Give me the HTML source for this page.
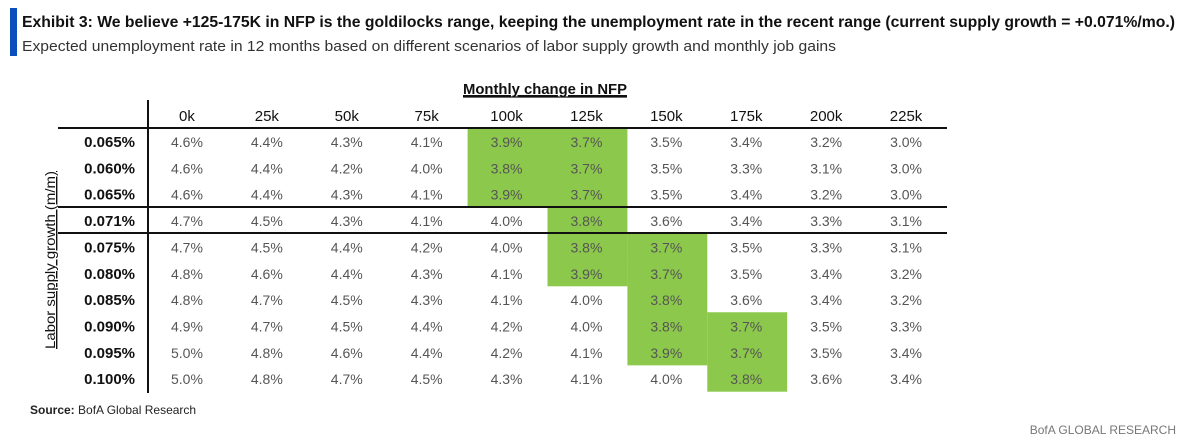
<!DOCTYPE html>
<html><head><meta charset="utf-8"><style>
html,body{margin:0;padding:0;background:#fff;}
svg{display:block;font-family:"Liberation Sans",sans-serif;}
</style></head><body>
<svg id="chart" width="1200" height="441" viewBox="0 0 1200 441">
<rect x="10" y="8" width="7" height="48" fill="#0b4fbd"/>
<text x="22" y="27" font-size="16" font-weight="bold" fill="#111" textLength="1153" lengthAdjust="spacingAndGlyphs">Exhibit 3: We believe +125-175K in NFP is the goldilocks range, keeping the unemployment rate in the recent range (current supply growth = +0.071%/mo.)</text>
<text x="22" y="51" font-size="15" fill="#333" textLength="814" lengthAdjust="spacingAndGlyphs">Expected unemployment rate in 12 months based on different scenarios of labor supply growth and monthly job gains</text>
<text x="545" y="94" font-size="15" font-weight="bold" fill="#111" text-anchor="middle" textLength="164" lengthAdjust="spacingAndGlyphs" text-decoration="underline">Monthly change in NFP</text>
<line x1="463" y1="97" x2="627" y2="97" stroke="#111" stroke-width="1.2"/>
<text transform="translate(55,260) rotate(-90)" font-size="14" fill="#111" text-anchor="middle" textLength="178" lengthAdjust="spacingAndGlyphs" text-decoration="underline">Labor supply growth (m/m)</text>
<g id="cells"></g>
<g id="labels"></g>
<line x1="58" y1="128" x2="947" y2="128" stroke="#111" stroke-width="2"/>
<line x1="58" y1="207" x2="947" y2="207" stroke="#111" stroke-width="2"/>
<line x1="58" y1="233" x2="947" y2="233" stroke="#111" stroke-width="2"/>
<line x1="148" y1="100" x2="148" y2="393" stroke="#111" stroke-width="2"/>
<text x="30" y="414" font-size="12" fill="#222"><tspan font-weight="bold">Source:</tspan> BofA Global Research</text>
<text x="1176" y="434" font-size="12" fill="#777" text-anchor="end">BofA GLOBAL RESEARCH</text>
</svg>
<script>
const columns = ["0k","25k","50k","75k","100k","125k","150k","175k","200k","225k"];
const rowsLabels = ["0.065%","0.060%","0.065%","0.071%","0.075%","0.080%","0.085%","0.090%","0.095%","0.100%"];
const values = [
[4.6,4.4,4.3,4.1,3.9,3.7,3.5,3.4,3.2,3.0],
[4.6,4.4,4.2,4.0,3.8,3.7,3.5,3.3,3.1,3.0],
[4.6,4.4,4.3,4.1,3.9,3.7,3.5,3.4,3.2,3.0],
[4.7,4.5,4.3,4.1,4.0,3.8,3.6,3.4,3.3,3.1],
[4.7,4.5,4.4,4.2,4.0,3.8,3.7,3.5,3.3,3.1],
[4.8,4.6,4.4,4.3,4.1,3.9,3.7,3.5,3.4,3.2],
[4.8,4.7,4.5,4.3,4.1,4.0,3.8,3.6,3.4,3.2],
[4.9,4.7,4.5,4.4,4.2,4.0,3.8,3.7,3.5,3.3],
[5.0,4.8,4.6,4.4,4.2,4.1,3.9,3.7,3.5,3.4],
[5.0,4.8,4.7,4.5,4.3,4.1,4.0,3.8,3.6,3.4]];
const highlighted = [
[0,0,0,0,1,1,0,0,0,0],
[0,0,0,0,1,1,0,0,0,0],
[0,0,0,0,1,1,0,0,0,0],
[0,0,0,0,0,1,0,0,0,0],
[0,0,0,0,0,1,1,0,0,0],
[0,0,0,0,0,1,1,0,0,0],
[0,0,0,0,0,0,1,0,0,0],
[0,0,0,0,0,0,1,1,0,0],
[0,0,0,0,0,0,1,1,0,0],
[0,0,0,0,0,0,0,1,0,0]];
const NS="http://www.w3.org/2000/svg";
const colX = i => 147 + i*79.9;   // left edge of column
const colW = 79.9;
const rowY = j => 128 + j*26.35;
const rowH = 26.35;
const cells=document.getElementById('cells'), labels=document.getElementById('labels');
function t(parent,x,y,s,attrs){const e=document.createElementNS(NS,'text');e.setAttribute('x',x);e.setAttribute('y',y);for(const k in attrs)e.setAttribute(k,attrs[k]);e.textContent=s;parent.appendChild(e);return e;}
columns.forEach((c,i)=>{
  const e=t(labels,colX(i)+colW/2,121,c,{'font-size':15,'fill':'#111','text-anchor':'middle'});
  
  
});
rowsLabels.forEach((r,j)=>{
  const e=t(labels,135,rowY(j)+19,r,{'font-size':15,'font-weight':'bold','fill':'#111','text-anchor':'end'});
  
  
  values[j].forEach((v,i)=>{
    if(highlighted[j][i]){
      const rc=document.createElementNS(NS,'rect');
      rc.setAttribute('x',colX(i)+1);rc.setAttribute('y',rowY(j)-0.2);rc.setAttribute('width',colW);rc.setAttribute('height',rowH+0.4);rc.setAttribute('fill','#8cc84b');
      
      
      cells.appendChild(rc);
    }
    const e2=t(cells,colX(i)+colW/2,rowY(j)+19,v.toFixed(1)+'%',{'font-size':14,'fill':'#555','text-anchor':'middle'});
    
    
  });
});
</script>
</body></html>
